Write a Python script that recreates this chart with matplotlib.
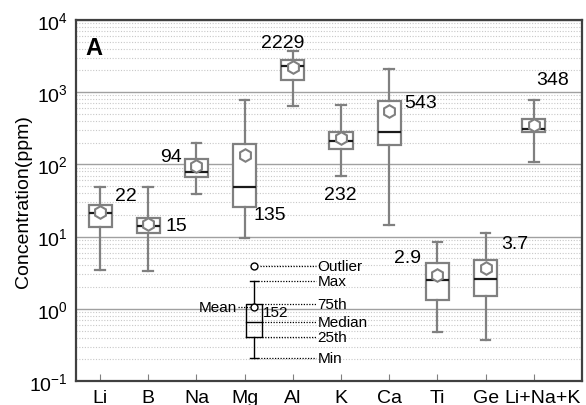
import matplotlib
matplotlib.use("Agg")
import matplotlib.pyplot as plt
import matplotlib.transforms as mtransforms
from matplotlib.ticker import LogLocator, NullFormatter

plt.rcParams['font.family'] = ['Liberation Sans', 'DejaVu Sans']
plt.rcParams['mathtext.fontset'] = 'custom'
plt.rcParams['mathtext.rm'] = 'Liberation Sans'

# Box statistics (ppm)
elements = ['Li', 'B', 'Na', 'Mg', 'Al', 'K', 'Ca', 'Ti', 'Ge', 'Li+Na+K']
whis_low = [3.4, 3.3, 38.5, 9.7, 638, 68, 14.5, 0.47, 0.37, 109]
q1 = [13.4, 11.1, 66, 25.9, 1490, 162, 187, 1.32, 1.49, 278]
median = [21.2, 14.2, 79, 48.2, 2328, 211, 281, 2.48, 2.56, 309]
q3 = [27.7, 18.1, 119, 194, 2766, 278, 763, 4.31, 4.74, 425]
whis_high = [48.6, 48.6, 196, 773, 3685, 665, 2096, 8.3, 11.3, 787]
means = [22, 15, 94, 135, 2229, 232, 543, 2.9, 3.7, 348]
mean_text = ['22', '15', '94', '135', '2229', '232', '543', '2.9', '3.7', '348']

# label offsets from the mean marker, pixels
label_off = [(26, 16), (28, -2), (-25, 10), (25, -60), (-10, 25),
             (-1, -56), (31, 9), (-30, 18), (29, 24), (19, 46)]

gray = '#808080'

fig = plt.figure(figsize=(5.86, 4.06), dpi=100)
ax = fig.add_axes([0.1297, 0.0591, 0.8635, 0.8892])

stats = []
for i in range(len(elements)):
    stats.append({'whislo': whis_low[i], 'q1': q1[i], 'med': median[i],
                  'q3': q3[i], 'whishi': whis_high[i], 'mean': means[i],
                  'fliers': []})

pos = list(range(1, len(elements) + 1))
ax.bxp(stats, positions=pos, widths=0.48, showmeans=True, patch_artist=True,
       boxprops=dict(facecolor='white', edgecolor=gray, linewidth=1.6),
       medianprops=dict(color='#1a1a1a', linewidth=1.6),
       whiskerprops=dict(color=gray, linewidth=1.6),
       capprops=dict(color=gray, linewidth=1.6),
       capwidths=0.2,
       meanprops=dict(marker='h', markerfacecolor='white', markeredgecolor=gray,
                      markersize=9, markeredgewidth=1.5),
       zorder=3)

for i in range(len(elements)):
    ax.annotate(mean_text[i], (pos[i], means[i]), xytext=label_off[i],
                textcoords='offset pixels', ha='center', va='center', fontsize=14)

ax.set_yscale('log')
ax.set_ylim(0.1, 10000)
ax.set_xlim(0.5, 11.0)
ax.yaxis.set_major_locator(LogLocator(base=10, numticks=10))
ax.yaxis.set_minor_locator(LogLocator(base=10, subs=range(2, 10), numticks=20))
ax.yaxis.set_minor_formatter(NullFormatter())
ax.set_xticks(pos)
ax.set_xticklabels(elements)
ax.tick_params(axis='x', direction='in', length=5, color=gray, labelsize=14, pad=6)
ax.tick_params(axis='y', which='both', length=0, labelsize=14, pad=6)
# nudge the long last label right so it clears "Ge"
lab = ax.get_xticklabels()[-1]
lab.set_transform(lab.get_transform() + mtransforms.ScaledTranslation(9 / 100, 0, fig.dpi_scale_trans))

ax.grid(axis='y', which='major', color='#a0a0a0', linewidth=1.0, zorder=0)
ax.grid(axis='y', which='minor', color='#c8c8c8', linestyle=(0, (1, 1.5)),
        linewidth=0.8, zorder=0)
ax.set_axisbelow(True)
ax.set_ylabel('Concentration(ppm)', fontsize=14)
ax.yaxis.set_label_coords(-0.087, 0.5)
for s in ax.spines.values():
    s.set_color('#404040')
    s.set_linewidth(1.6)

ax.text(0.018, 0.957, 'A', transform=ax.transAxes, fontsize=17,
        fontweight='bold', va='top', ha='left')

# schematic key, axes fraction coordinates
T = ax.transAxes
kx = 0.3518
bw = 0.0158
cw = 0.008
y_out, y_max, y_q3, y_mean, y_med, y_q1, y_min = 0.3194, 0.2778, 0.2133, 0.2042, 0.1643, 0.1211, 0.0637
lw = 1.0
ax.plot([kx - bw, kx + bw, kx + bw, kx - bw, kx - bw],
        [y_q1, y_q1, y_q3, y_q3, y_q1], color='black', lw=lw, transform=T)
ax.plot([kx - bw, kx + bw], [y_med, y_med], color='black', lw=lw, transform=T)
ax.plot([kx, kx], [y_q3, y_max], color='black', lw=lw, transform=T)
ax.plot([kx, kx], [y_q1, y_min], color='black', lw=lw, transform=T)
ax.plot([kx - cw, kx + cw], [y_max, y_max], color='black', lw=lw, transform=T)
ax.plot([kx - cw, kx + cw], [y_min, y_min], color='black', lw=lw, transform=T)
ax.plot([kx], [y_out], marker='o', ms=5, mfc='white', mec='black', mew=1.0, transform=T)
ax.plot([kx], [y_mean], marker='o', ms=5, mfc='white', mec='black', mew=1.0, transform=T)

x_end = 0.4743
for yy, x0, txt in [(y_out, kx + 0.011, 'Outlier'), (y_max, kx + cw, 'Max'),
                    (y_q3, kx + bw, '75th'), (y_med, kx + bw, 'Median'),
                    (y_q1, kx + bw, '25th'), (y_min, kx + cw, 'Min')]:
    ax.plot([x0, x_end], [yy, yy], color='black', lw=0.9, ls=(0, (1, 1.2)), transform=T)
    ax.text(x_end + 0.003, yy, txt, transform=T, fontsize=11, va='center', ha='left')
ax.plot([0.320, kx - 0.008], [y_mean, y_mean], color='black', lw=0.9,
        ls=(0, (1, 1.2)), transform=T)
ax.text(0.318, y_mean, 'Mean', transform=T, fontsize=11, va='center', ha='right')
ax.text(kx + bw + 0.001, y_mean - 0.012, '152', transform=T, fontsize=11,
        va='center', ha='left')

fig.savefig('out.png', dpi=100)
